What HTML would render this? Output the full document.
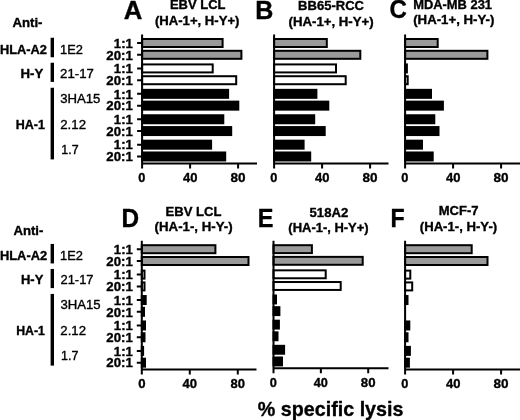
<!DOCTYPE html>
<html><head><meta charset="utf-8"><style>
html,body{margin:0;padding:0;background:#fff;}
body{width:520px;height:420px;overflow:hidden;}
svg{display:block;font-family:"Liberation Sans", sans-serif;will-change:transform;}
.t text{fill:#000;stroke:#000;stroke-width:0.35px;stroke-linejoin:round;}
</style></head><body>
<svg width="520" height="420" viewBox="0 0 520 420">
<rect x="142.10" y="39.00" width="80.50" height="8.00" fill="#9a9a9a" stroke="#000" stroke-width="2.0"/>
<rect x="142.10" y="50.80" width="99.30" height="8.00" fill="#9a9a9a" stroke="#000" stroke-width="2.0"/>
<rect x="142.10" y="64.42" width="70.60" height="8.00" fill="#fff" stroke="#000" stroke-width="2.0"/>
<rect x="142.10" y="76.22" width="94.10" height="8.00" fill="#fff" stroke="#000" stroke-width="2.0"/>
<rect x="142.10" y="89.84" width="86.00" height="8.00" fill="#000" stroke="#000" stroke-width="2.0"/>
<rect x="142.10" y="101.64" width="96.20" height="8.00" fill="#000" stroke="#000" stroke-width="2.0"/>
<rect x="142.10" y="115.26" width="81.20" height="8.00" fill="#000" stroke="#000" stroke-width="2.0"/>
<rect x="142.10" y="127.06" width="89.10" height="8.00" fill="#000" stroke="#000" stroke-width="2.0"/>
<rect x="142.10" y="140.68" width="69.00" height="8.00" fill="#000" stroke="#000" stroke-width="2.0"/>
<rect x="142.10" y="152.48" width="83.10" height="8.00" fill="#000" stroke="#000" stroke-width="2.0"/>
<path d="M142.10 34.50V168.40M141.10 163.40H257.00M190.10 163.40v5M238.10 163.40v5" stroke="#000" stroke-width="2" fill="none"/>
<path d="M137.10 43.00H142.10M137.10 54.80H142.10M137.10 68.42H142.10M137.10 80.22H142.10M137.10 93.84H142.10M137.10 105.64H142.10M137.10 119.26H142.10M137.10 131.06H142.10M137.10 144.68H142.10M137.10 156.48H142.10" stroke="#000" stroke-width="2" fill="none"/>
<rect x="274.10" y="39.00" width="52.70" height="8.00" fill="#9a9a9a" stroke="#000" stroke-width="2.0"/>
<rect x="274.10" y="50.80" width="86.20" height="8.00" fill="#9a9a9a" stroke="#000" stroke-width="2.0"/>
<rect x="274.10" y="64.42" width="61.90" height="8.00" fill="#fff" stroke="#000" stroke-width="2.0"/>
<rect x="274.10" y="76.22" width="71.60" height="8.00" fill="#fff" stroke="#000" stroke-width="2.0"/>
<rect x="274.10" y="89.84" width="42.30" height="8.00" fill="#000" stroke="#000" stroke-width="2.0"/>
<rect x="274.10" y="101.64" width="54.20" height="8.00" fill="#000" stroke="#000" stroke-width="2.0"/>
<rect x="274.10" y="115.26" width="40.10" height="8.00" fill="#000" stroke="#000" stroke-width="2.0"/>
<rect x="274.10" y="127.06" width="50.60" height="8.00" fill="#000" stroke="#000" stroke-width="2.0"/>
<rect x="274.10" y="140.68" width="29.50" height="8.00" fill="#000" stroke="#000" stroke-width="2.0"/>
<rect x="274.10" y="152.48" width="36.10" height="8.00" fill="#000" stroke="#000" stroke-width="2.0"/>
<path d="M274.10 34.50V168.40M273.10 163.40H388.50M322.10 163.40v5M370.10 163.40v5" stroke="#000" stroke-width="2" fill="none"/>
<rect x="405.10" y="39.00" width="32.60" height="8.00" fill="#9a9a9a" stroke="#000" stroke-width="2.0"/>
<rect x="405.10" y="50.80" width="82.30" height="8.00" fill="#9a9a9a" stroke="#000" stroke-width="2.0"/>
<rect x="405.10" y="64.42" width="1.80" height="8.00" fill="#fff" stroke="#000" stroke-width="2.0"/>
<rect x="405.10" y="76.22" width="2.60" height="8.00" fill="#fff" stroke="#000" stroke-width="2.0"/>
<rect x="405.10" y="89.84" width="25.90" height="8.00" fill="#000" stroke="#000" stroke-width="2.0"/>
<rect x="405.10" y="101.64" width="37.80" height="8.00" fill="#000" stroke="#000" stroke-width="2.0"/>
<rect x="405.10" y="115.26" width="29.20" height="8.00" fill="#000" stroke="#000" stroke-width="2.0"/>
<rect x="405.10" y="127.06" width="33.40" height="8.00" fill="#000" stroke="#000" stroke-width="2.0"/>
<rect x="405.10" y="140.68" width="16.90" height="8.00" fill="#000" stroke="#000" stroke-width="2.0"/>
<rect x="405.10" y="152.48" width="27.60" height="8.00" fill="#000" stroke="#000" stroke-width="2.0"/>
<path d="M405.10 34.50V168.40M404.10 163.40H521.00M453.10 163.40v5M501.10 163.40v5" stroke="#000" stroke-width="2" fill="none"/>
<rect x="141.80" y="245.20" width="73.60" height="8.00" fill="#9a9a9a" stroke="#000" stroke-width="2.0"/>
<rect x="141.80" y="257.00" width="106.70" height="8.00" fill="#9a9a9a" stroke="#000" stroke-width="2.0"/>
<rect x="141.80" y="270.62" width="2.70" height="8.00" fill="#fff" stroke="#000" stroke-width="2.0"/>
<rect x="141.80" y="282.42" width="2.70" height="8.00" fill="#fff" stroke="#000" stroke-width="2.0"/>
<rect x="141.80" y="296.04" width="3.90" height="8.00" fill="#000" stroke="#000" stroke-width="2.0"/>
<rect x="141.80" y="307.84" width="2.20" height="8.00" fill="#000" stroke="#000" stroke-width="2.0"/>
<rect x="141.80" y="321.46" width="3.20" height="8.00" fill="#000" stroke="#000" stroke-width="2.0"/>
<rect x="141.80" y="333.26" width="2.70" height="8.00" fill="#000" stroke="#000" stroke-width="2.0"/>
<rect x="141.80" y="346.88" width="1.30" height="8.00" fill="#000" stroke="#000" stroke-width="2.0"/>
<rect x="141.80" y="358.68" width="3.20" height="8.00" fill="#000" stroke="#000" stroke-width="2.0"/>
<path d="M141.80 240.70V374.60M140.80 369.60H256.50M189.80 369.60v5M237.80 369.60v5" stroke="#000" stroke-width="2" fill="none"/>
<path d="M136.80 249.20H141.80M136.80 261.00H141.80M136.80 274.62H141.80M136.80 286.42H141.80M136.80 300.04H141.80M136.80 311.84H141.80M136.80 325.46H141.80M136.80 337.26H141.80M136.80 350.88H141.80M136.80 362.68H141.80" stroke="#000" stroke-width="2" fill="none"/>
<g transform="matrix(1 0 0 0.9896 0 2.5397)">
<rect x="273.50" y="245.20" width="38.40" height="8.00" fill="#9a9a9a" stroke="#000" stroke-width="2.0"/>
<rect x="273.50" y="257.00" width="89.20" height="8.00" fill="#9a9a9a" stroke="#000" stroke-width="2.0"/>
<rect x="273.50" y="270.62" width="52.20" height="8.00" fill="#fff" stroke="#000" stroke-width="2.0"/>
<rect x="273.50" y="282.42" width="67.20" height="8.00" fill="#fff" stroke="#000" stroke-width="2.0"/>
<rect x="273.50" y="296.04" width="2.50" height="8.00" fill="#000" stroke="#000" stroke-width="2.0"/>
<rect x="273.50" y="307.84" width="5.90" height="8.00" fill="#000" stroke="#000" stroke-width="2.0"/>
<rect x="273.50" y="321.46" width="5.40" height="8.00" fill="#000" stroke="#000" stroke-width="2.0"/>
<rect x="273.50" y="333.26" width="4.00" height="8.00" fill="#000" stroke="#000" stroke-width="2.0"/>
<rect x="273.50" y="346.88" width="10.60" height="8.00" fill="#000" stroke="#000" stroke-width="2.0"/>
<rect x="273.50" y="358.68" width="8.50" height="8.00" fill="#000" stroke="#000" stroke-width="2.0"/>
<path d="M273.50 240.70V374.60M272.50 369.60H388.50M320.86 369.60v5M368.22 369.60v5" stroke="#000" stroke-width="2" fill="none"/>
</g>
<rect x="405.10" y="245.20" width="66.60" height="8.00" fill="#9a9a9a" stroke="#000" stroke-width="2.0"/>
<rect x="405.10" y="257.00" width="82.40" height="8.00" fill="#9a9a9a" stroke="#000" stroke-width="2.0"/>
<rect x="405.10" y="270.62" width="5.20" height="8.00" fill="#fff" stroke="#000" stroke-width="2.0"/>
<rect x="405.10" y="282.42" width="7.10" height="8.00" fill="#fff" stroke="#000" stroke-width="2.0"/>
<rect x="405.10" y="296.04" width="2.40" height="8.00" fill="#000" stroke="#000" stroke-width="2.0"/>
<rect x="405.10" y="321.46" width="4.20" height="8.00" fill="#000" stroke="#000" stroke-width="2.0"/>
<rect x="405.10" y="333.26" width="2.40" height="8.00" fill="#000" stroke="#000" stroke-width="2.0"/>
<rect x="405.10" y="346.88" width="4.80" height="8.00" fill="#000" stroke="#000" stroke-width="2.0"/>
<rect x="405.10" y="358.68" width="3.80" height="8.00" fill="#000" stroke="#000" stroke-width="2.0"/>
<path d="M405.10 240.70V374.60M404.10 369.60H521.00M453.10 369.60v5M501.10 369.60v5" stroke="#000" stroke-width="2" fill="none"/>
<rect x="50.6" y="37.75" width="3.4" height="19.50" fill="#000"/>
<rect x="50.6" y="62.75" width="3.4" height="19.15" fill="#000"/>
<rect x="50.6" y="87.75" width="3.4" height="71.65" fill="#000"/>
<rect x="50.6" y="243.95" width="3.4" height="19.50" fill="#000"/>
<rect x="50.6" y="268.95" width="3.4" height="19.15" fill="#000"/>
<rect x="50.6" y="293.95" width="3.4" height="71.65" fill="#000"/>
<g class="t">
<text x="12.52" y="26.50" font-size="12.40" font-weight="bold" textLength="30.00" lengthAdjust="spacingAndGlyphs">Anti-</text>
<text x="0.01" y="53.50" font-size="12.40" font-weight="bold" textLength="46.94" lengthAdjust="spacingAndGlyphs">HLA-A2</text>
<text x="20.54" y="77.50" font-size="12.40" font-weight="bold" textLength="22.76" lengthAdjust="spacingAndGlyphs">H-Y</text>
<text x="15.65" y="128.50" font-size="12.40" font-weight="bold" textLength="29.22" lengthAdjust="spacingAndGlyphs">HA-1</text>
<text x="60.03" y="53.50" font-size="12.10" textLength="22.79" lengthAdjust="spacingAndGlyphs">1E2</text>
<text x="60.08" y="77.50" font-size="12.10" textLength="33.72" lengthAdjust="spacingAndGlyphs">21-17</text>
<text x="60.19" y="102.50" font-size="12.10" textLength="40.23" lengthAdjust="spacingAndGlyphs">3HA15</text>
<text x="60.27" y="128.50" font-size="12.10" textLength="25.74" lengthAdjust="spacingAndGlyphs">2.12</text>
<text x="61.29" y="153.50" font-size="12.10" textLength="17.29" lengthAdjust="spacingAndGlyphs">1.7</text>
<text x="13.40" y="234.50" font-size="12.40" font-weight="bold" textLength="29.99" lengthAdjust="spacingAndGlyphs">Anti-</text>
<text x="-0.04" y="259.50" font-size="12.40" font-weight="bold" textLength="47.19" lengthAdjust="spacingAndGlyphs">HLA-A2</text>
<text x="20.96" y="283.50" font-size="12.40" font-weight="bold" textLength="22.37" lengthAdjust="spacingAndGlyphs">H-Y</text>
<text x="16.20" y="334.50" font-size="12.40" font-weight="bold" textLength="28.71" lengthAdjust="spacingAndGlyphs">HA-1</text>
<text x="60.10" y="259.50" font-size="12.10" textLength="22.83" lengthAdjust="spacingAndGlyphs">1E2</text>
<text x="60.54" y="283.50" font-size="12.10" textLength="32.96" lengthAdjust="spacingAndGlyphs">21-17</text>
<text x="60.47" y="308.50" font-size="12.10" textLength="40.20" lengthAdjust="spacingAndGlyphs">3HA15</text>
<text x="60.36" y="334.50" font-size="12.10" textLength="25.64" lengthAdjust="spacingAndGlyphs">2.12</text>
<text x="61.03" y="359.50" font-size="12.10" textLength="17.36" lengthAdjust="spacingAndGlyphs">1.7</text>
<text x="123.77" y="18.50" font-size="25.29" font-weight="bold" textLength="18.60" lengthAdjust="spacingAndGlyphs">A</text>
<text x="255.21" y="18.50" font-size="25.29" font-weight="bold" textLength="18.11" lengthAdjust="spacingAndGlyphs">B</text>
<text x="389.58" y="17.50" font-size="25.29" font-weight="bold" textLength="17.40" lengthAdjust="spacingAndGlyphs">C</text>
<text x="121.54" y="226.50" font-size="25.29" font-weight="bold" textLength="17.61" lengthAdjust="spacingAndGlyphs">D</text>
<text x="257.74" y="226.50" font-size="25.29" font-weight="bold" textLength="15.71" lengthAdjust="spacingAndGlyphs">E</text>
<text x="390.60" y="226.50" font-size="25.29" font-weight="bold" textLength="14.19" lengthAdjust="spacingAndGlyphs">F</text>
<text x="169.92" y="8.50" font-size="12.40" font-weight="bold" textLength="55.54" lengthAdjust="spacingAndGlyphs">EBV LCL</text>
<text x="154.94" y="24.50" font-size="12.64" font-weight="bold" textLength="84.53" lengthAdjust="spacingAndGlyphs">(HA-1+, H-Y+)</text>
<text x="298.11" y="9.50" font-size="12.40" font-weight="bold" textLength="65.86" lengthAdjust="spacingAndGlyphs">BB65-RCC</text>
<text x="288.60" y="25.50" font-size="12.64" font-weight="bold" textLength="85.08" lengthAdjust="spacingAndGlyphs">(HA-1+, H-Y+)</text>
<text x="413.18" y="8.50" font-size="12.40" font-weight="bold" textLength="78.88" lengthAdjust="spacingAndGlyphs">MDA-MB 231</text>
<text x="413.23" y="23.50" font-size="12.64" font-weight="bold" textLength="81.13" lengthAdjust="spacingAndGlyphs">(HA-1+, H-Y-)</text>
<text x="165.54" y="215.50" font-size="12.40" font-weight="bold" textLength="55.91" lengthAdjust="spacingAndGlyphs">EBV LCL</text>
<text x="154.63" y="230.50" font-size="12.64" font-weight="bold" textLength="77.97" lengthAdjust="spacingAndGlyphs">(HA-1-, H-Y-)</text>
<text x="309.54" y="216.50" font-size="12.40" font-weight="bold" textLength="38.67" lengthAdjust="spacingAndGlyphs">518A2</text>
<text x="288.37" y="231.50" font-size="12.64" font-weight="bold" textLength="80.31" lengthAdjust="spacingAndGlyphs">(HA-1-, H-Y+)</text>
<text x="438.69" y="214.50" font-size="12.40" font-weight="bold" textLength="39.83" lengthAdjust="spacingAndGlyphs">MCF-7</text>
<text x="419.77" y="230.50" font-size="12.64" font-weight="bold" textLength="77.37" lengthAdjust="spacingAndGlyphs">(HA-1-, H-Y-)</text>
<text x="257.75" y="415.50" font-size="19.63" font-weight="bold" textLength="145.73" lengthAdjust="spacingAndGlyphs">% specific lysis</text>
<text x="138.28" y="181.50" font-size="13.07" font-weight="bold" textLength="7.09" lengthAdjust="spacingAndGlyphs">0</text>
<text x="182.98" y="181.50" font-size="13.07" font-weight="bold" textLength="14.45" lengthAdjust="spacingAndGlyphs">40</text>
<text x="230.40" y="181.50" font-size="13.07" font-weight="bold" textLength="15.03" lengthAdjust="spacingAndGlyphs">80</text>
<text x="270.28" y="181.50" font-size="13.07" font-weight="bold" textLength="7.09" lengthAdjust="spacingAndGlyphs">0</text>
<text x="314.98" y="181.50" font-size="13.07" font-weight="bold" textLength="14.45" lengthAdjust="spacingAndGlyphs">40</text>
<text x="362.40" y="181.50" font-size="13.07" font-weight="bold" textLength="15.03" lengthAdjust="spacingAndGlyphs">80</text>
<text x="401.28" y="181.50" font-size="13.07" font-weight="bold" textLength="7.09" lengthAdjust="spacingAndGlyphs">0</text>
<text x="445.98" y="181.50" font-size="13.07" font-weight="bold" textLength="14.45" lengthAdjust="spacingAndGlyphs">40</text>
<text x="493.40" y="181.50" font-size="13.07" font-weight="bold" textLength="15.03" lengthAdjust="spacingAndGlyphs">80</text>
<text x="138.15" y="387.50" font-size="13.07" font-weight="bold" textLength="7.31" lengthAdjust="spacingAndGlyphs">0</text>
<text x="182.55" y="387.50" font-size="13.07" font-weight="bold" textLength="14.51" lengthAdjust="spacingAndGlyphs">40</text>
<text x="230.51" y="387.50" font-size="13.07" font-weight="bold" textLength="14.48" lengthAdjust="spacingAndGlyphs">80</text>
<text x="269.72" y="386.50" font-size="13.07" font-weight="bold" textLength="7.10" lengthAdjust="spacingAndGlyphs">0</text>
<text x="313.70" y="386.50" font-size="13.07" font-weight="bold" textLength="14.13" lengthAdjust="spacingAndGlyphs">40</text>
<text x="360.82" y="386.50" font-size="13.07" font-weight="bold" textLength="14.67" lengthAdjust="spacingAndGlyphs">80</text>
<text x="401.28" y="387.50" font-size="13.07" font-weight="bold" textLength="7.09" lengthAdjust="spacingAndGlyphs">0</text>
<text x="445.98" y="387.50" font-size="13.07" font-weight="bold" textLength="14.45" lengthAdjust="spacingAndGlyphs">40</text>
<text x="493.40" y="387.50" font-size="13.07" font-weight="bold" textLength="15.03" lengthAdjust="spacingAndGlyphs">80</text>
<text x="113.86" y="47.50" font-size="12.68" font-weight="bold" textLength="18.99" lengthAdjust="spacingAndGlyphs">1:1</text>
<text x="106.31" y="59.50" font-size="12.68" font-weight="bold" textLength="26.51" lengthAdjust="spacingAndGlyphs">20:1</text>
<text x="113.86" y="72.50" font-size="12.68" font-weight="bold" textLength="18.99" lengthAdjust="spacingAndGlyphs">1:1</text>
<text x="106.31" y="84.50" font-size="12.68" font-weight="bold" textLength="26.51" lengthAdjust="spacingAndGlyphs">20:1</text>
<text x="113.86" y="98.50" font-size="12.68" font-weight="bold" textLength="18.99" lengthAdjust="spacingAndGlyphs">1:1</text>
<text x="106.31" y="109.50" font-size="12.68" font-weight="bold" textLength="26.51" lengthAdjust="spacingAndGlyphs">20:1</text>
<text x="113.86" y="123.50" font-size="12.68" font-weight="bold" textLength="18.99" lengthAdjust="spacingAndGlyphs">1:1</text>
<text x="106.31" y="135.50" font-size="12.68" font-weight="bold" textLength="26.51" lengthAdjust="spacingAndGlyphs">20:1</text>
<text x="113.86" y="148.50" font-size="12.68" font-weight="bold" textLength="18.99" lengthAdjust="spacingAndGlyphs">1:1</text>
<text x="106.31" y="160.50" font-size="12.68" font-weight="bold" textLength="26.51" lengthAdjust="spacingAndGlyphs">20:1</text>
<text x="113.86" y="253.50" font-size="12.68" font-weight="bold" textLength="18.99" lengthAdjust="spacingAndGlyphs">1:1</text>
<text x="106.31" y="265.50" font-size="12.68" font-weight="bold" textLength="26.51" lengthAdjust="spacingAndGlyphs">20:1</text>
<text x="113.86" y="278.50" font-size="12.68" font-weight="bold" textLength="18.99" lengthAdjust="spacingAndGlyphs">1:1</text>
<text x="106.31" y="290.50" font-size="12.68" font-weight="bold" textLength="26.51" lengthAdjust="spacingAndGlyphs">20:1</text>
<text x="113.86" y="304.50" font-size="12.68" font-weight="bold" textLength="18.99" lengthAdjust="spacingAndGlyphs">1:1</text>
<text x="106.31" y="316.50" font-size="12.68" font-weight="bold" textLength="26.51" lengthAdjust="spacingAndGlyphs">20:1</text>
<text x="113.86" y="329.50" font-size="12.68" font-weight="bold" textLength="18.99" lengthAdjust="spacingAndGlyphs">1:1</text>
<text x="106.31" y="341.50" font-size="12.68" font-weight="bold" textLength="26.51" lengthAdjust="spacingAndGlyphs">20:1</text>
<text x="113.86" y="355.50" font-size="12.68" font-weight="bold" textLength="18.99" lengthAdjust="spacingAndGlyphs">1:1</text>
<text x="106.31" y="366.50" font-size="12.68" font-weight="bold" textLength="26.51" lengthAdjust="spacingAndGlyphs">20:1</text>
</g>
</svg>
</body></html>
